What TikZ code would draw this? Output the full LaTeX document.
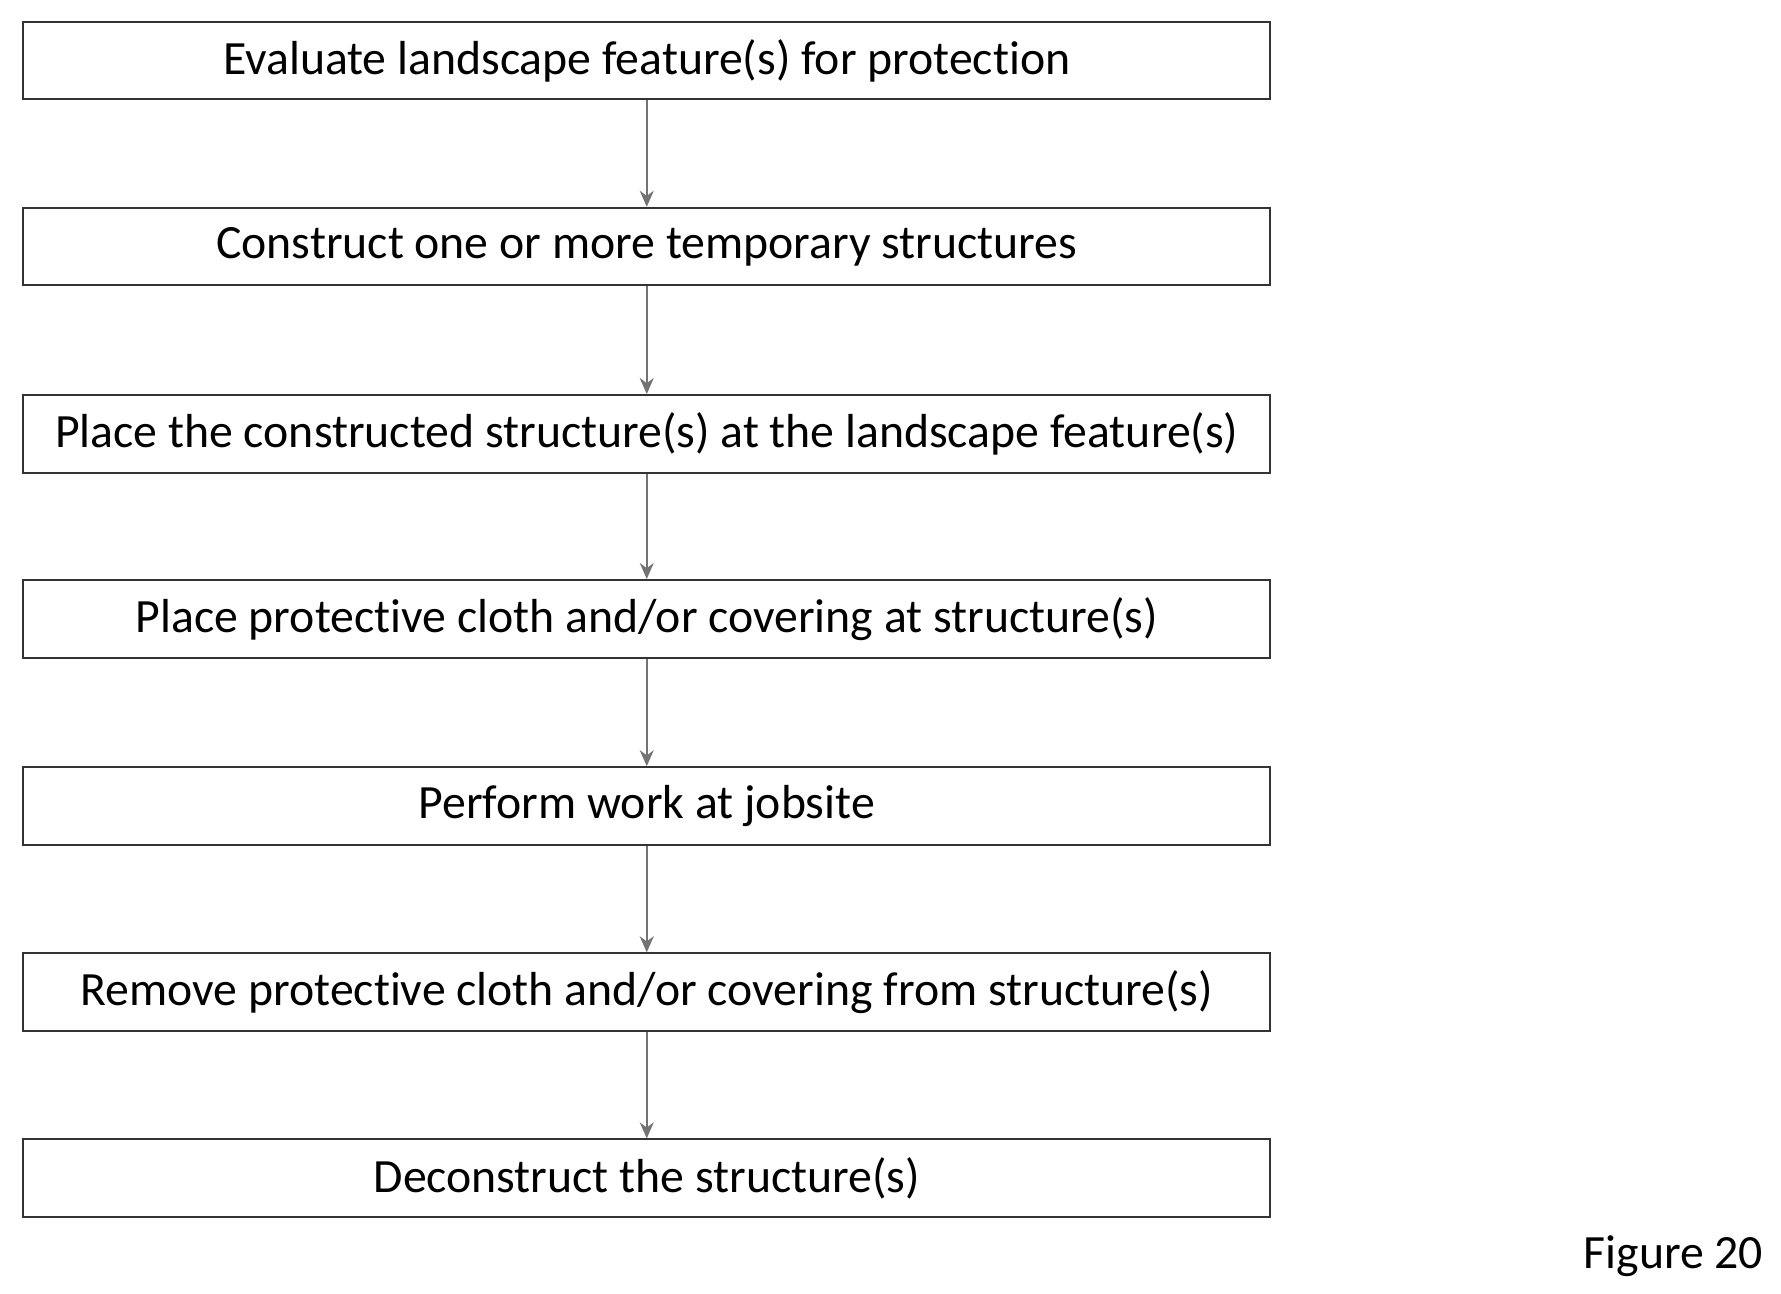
\documentclass[tikz,border=0pt]{standalone}
\usepackage{fontspec}
\setmainfont{Carlito}[Ligatures=NoCommon]
\usetikzlibrary{arrows.meta}
\begin{document}
\begin{tikzpicture}[x=1cm,y=1cm,
  stepbox/.style={draw=black!80,line width=0.5pt,minimum width=10.92cm,minimum height=0.68cm,inner sep=0pt,font=\fontsize{11.9pt}{13pt}\selectfont},
  conn/.style={draw=black!55,line width=0.4pt,-{Stealth[length=4pt,width=3.5pt]}}]
\useasboundingbox (0,0) rectangle (15.6,11.33);
\node[stepbox] (a) at (5.665,10.80) {Evaluate landscape feature(s) for protection};
\node[stepbox] (b) at (5.665,9.17) {Construct one or more temporary structures};
\node[stepbox] (c) at (5.665,7.53) {Place the constructed structure(s) at the landscape feature(s)};
\node[stepbox] (d) at (5.665,5.91) {Place protective cloth and/or covering at structure(s)};
\node[stepbox] (e) at (5.665,4.27) {Perform work at jobsite};
\node[stepbox] (f) at (5.665,2.64) {Remove protective cloth and/or covering from structure(s)};
\node[stepbox] (g) at (5.665,1.01) {Deconstruct the structure(s)};
\foreach \u/\v in {a/b,b/c,c/d,d/e,e/f,f/g} \draw[conn] (\u) -- (\v);
\node[anchor=east,inner sep=0pt,font=\fontsize{11.9pt}{13pt}\selectfont] (fig) at (15.45,0.33) {Figure 20};
\end{tikzpicture}
\end{document}
